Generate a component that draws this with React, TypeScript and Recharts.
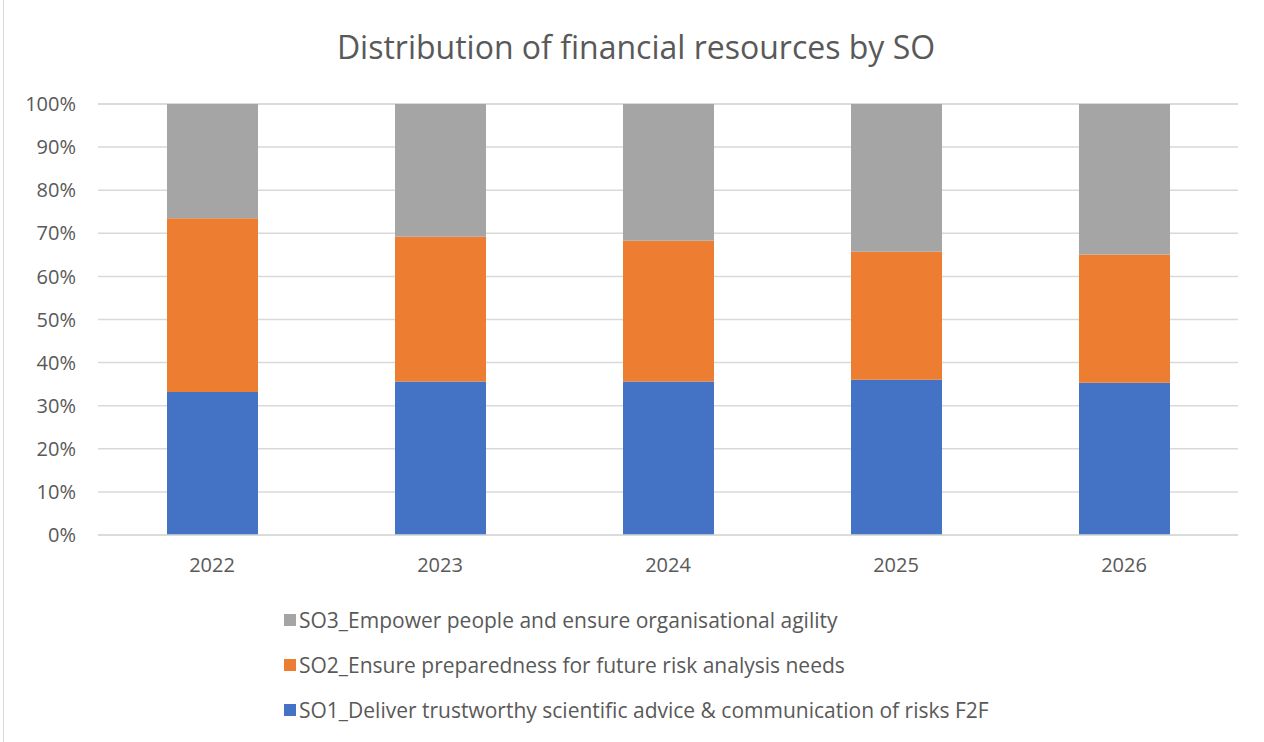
import { Bar, BarChart, CartesianGrid, XAxis, YAxis } from "recharts"

const years = ["2022", "2023", "2024", "2025", "2026"]
const so1 = [33.2, 35.6, 35.6, 36.0, 35.3]
const so2 = [40.3, 33.6, 32.7, 29.7, 29.8]
const so3 = [26.5, 30.8, 31.7, 34.3, 34.9]
const yTicks = [0, 10, 20, 30, 40, 50, 60, 70, 80, 90, 100]

const seriesNames = {
  so1: "SO1_Deliver trustworthy scientific advice & communication of risks F2F",
  so2: "SO2_Ensure preparedness for future risk analysis needs",
  so3: "SO3_Empower people and ensure organisational agility",
}

const colors = { so1: "#4472C4", so2: "#ED7D31", so3: "#A5A5A5" }

const data = years.map((year, i) => ({
  year,
  so1: so1[i],
  so2: so2[i],
  so3: so3[i],
}))

const font = "'Open Sans', sans-serif"
const legendOrder: ("so3" | "so2" | "so1")[] = ["so3", "so2", "so1"]

export default function App() {
  return (
    <div
      style={{
        position: "absolute",
        left: 0,
        top: 0,
        width: 1264,
        height: 742,
        background: "#fff",
        fontFamily: font,
      }}
    >
      <div
        style={{
          position: "absolute",
          left: 3,
          top: 0,
          width: 1270,
          height: 742,
          borderLeft: "1px solid #d9d9d9",
        }}
      />
      <div
        style={{
          position: "absolute",
          left: 0,
          width: 1272,
          top: 25,
          textAlign: "center",
          fontSize: 32,
          color: "#595959",
          lineHeight: "44px",
        }}
      >
        Distribution of financial resources by SO
      </div>
      <BarChart
        width={1264}
        height={742}
        data={data}
        margin={{ top: 104, right: 26, bottom: 177, left: 0 }}
        barSize={91}
      >
        <CartesianGrid vertical={false} stroke="#d9d9d9" strokeWidth={1.5} />
        <XAxis
          dataKey="year"
          tickLine={false}
          axisLine={{ stroke: "#d9d9d9", strokeWidth: 1.5 }}
          tick={{ fill: "#595959", fontSize: 20, fontFamily: font }}
          tickMargin={17}
          height={30}
        />
        <YAxis
          domain={[0, 100]}
          ticks={yTicks}
          tickLine={false}
          axisLine={false}
          width={98}
          tickMargin={16}
          tickFormatter={(v) => `${v}%`}
          tick={{ fill: "#595959", fontSize: 20, fontFamily: font }}
        />
        <Bar dataKey="so1" stackId="a" fill={colors.so1} name={seriesNames.so1} isAnimationActive={false} />
        <Bar dataKey="so2" stackId="a" fill={colors.so2} name={seriesNames.so2} isAnimationActive={false} />
        <Bar dataKey="so3" stackId="a" fill={colors.so3} name={seriesNames.so3} isAnimationActive={false} />
      </BarChart>
      <div style={{ position: "absolute", left: 284, top: 597 }}>
        {legendOrder.map((key) => (
          <div
            key={key}
            style={{
              display: "flex",
              alignItems: "center",
              height: 45,
              fontSize: 21,
              color: "#595959",
            }}
          >
            <span
              style={{
                display: "inline-block",
                width: 12,
                height: 12,
                background: colors[key],
                marginRight: 3,
              }}
            />
            {seriesNames[key]}
          </div>
        ))}
      </div>
    </div>
  )
}
